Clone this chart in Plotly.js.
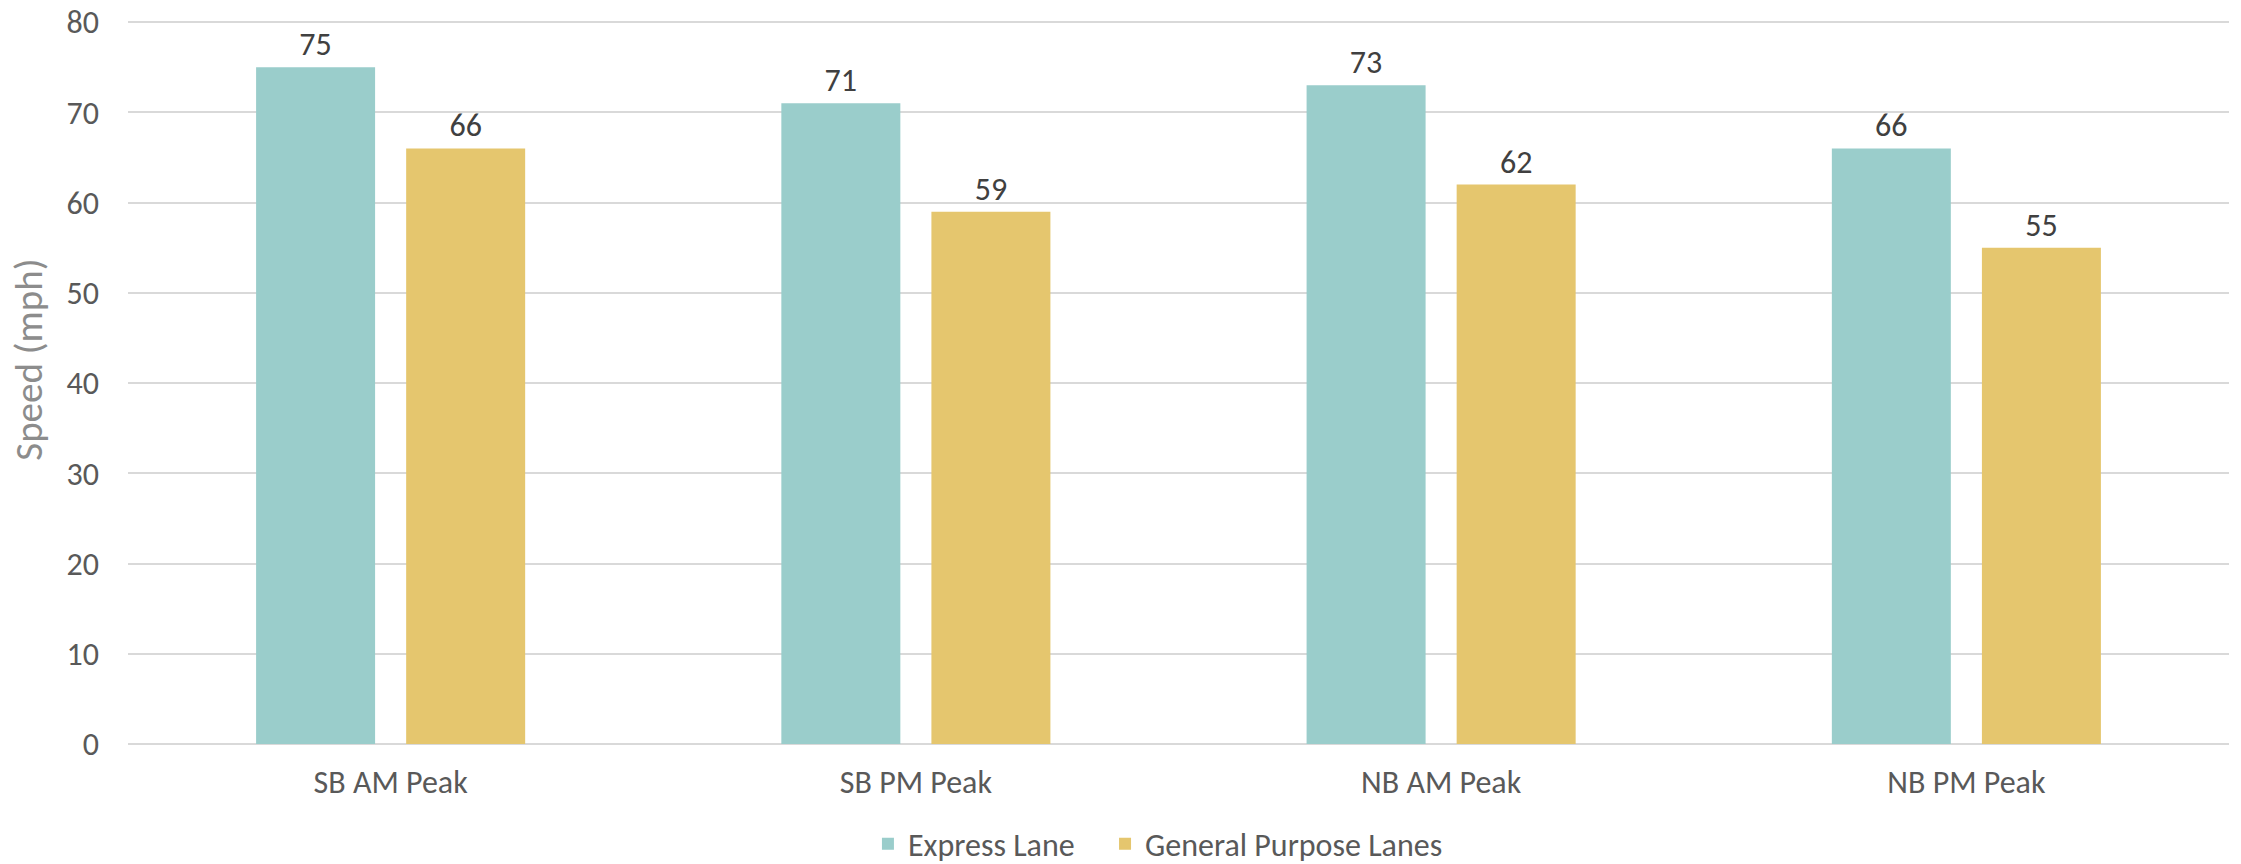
<!DOCTYPE html>
<html>
<head>
<meta charset="utf-8">
<script src="https://cdn.plot.ly/plotly-3.0.1.min.js"></script>
<style>html,body{margin:0;padding:0;background:#fff;}#chart{width:2241px;height:864px;}</style>
</head>
<body>
<div id="chart"></div>
<script>
const categories = ["SB AM Peak", "SB PM Peak", "NB AM Peak", "NB PM Peak"];
const expressLane = [75, 71, 73, 66];
const generalPurpose = [66, 59, 62, 55];
const seriesNames = ["Express Lane", "General Purpose Lanes"];
const yTicks = [0, 10, 20, 30, 40, 50, 60, 70, 80];

const FONT = "Carlito, Calibri, Lato, 'Open Sans', sans-serif";
const textFont = {family: FONT, size: 32, color: "#404040"};
const legendFont = {family: FONT, size: 32, color: "#595959"};

const traces = [
  {
    type: "bar", name: seriesNames[0], x: categories, y: expressLane,
    marker: {color: "#9ACDCB"}, legend: "legend",
    text: expressLane.map(String), textposition: "outside", textfont: textFont,
    cliponaxis: false, hoverinfo: "skip"
  },
  {
    type: "bar", name: seriesNames[1], x: categories, y: generalPurpose,
    marker: {color: "#E5C66E"}, legend: "legend2",
    text: generalPurpose.map(String), textposition: "outside", textfont: textFont,
    cliponaxis: false, hoverinfo: "skip"
  }
];

const layout = {
  width: 2241, height: 864,
  margin: {l: 128, r: 12, t: 19, b: 120, autoexpand: false},
  paper_bgcolor: "#fff", plot_bgcolor: "#fff",
  font: {family: FONT, size: 32, color: "#595959"},
  barmode: "group", bargap: 0.4286, bargroupgap: 0.207,
  showlegend: true,
  legend: {
    orientation: "h", xref: "container", yref: "container",
    x: 0.3873, xanchor: "left", y: 0.0231, yanchor: "middle",
    itemclick: false, font: legendFont, bgcolor: "rgba(0,0,0,0)"
  },
  legend2: {
    orientation: "h", xref: "container", yref: "container",
    x: 0.4931, xanchor: "left", y: 0.0231, yanchor: "middle",
    itemclick: false, font: legendFont, bgcolor: "rgba(0,0,0,0)"
  },
  xaxis: {
    type: "category", showgrid: false, showline: false, ticks: "",
    ticklabelstandoff: 16,
    tickfont: {family: FONT, size: 32, color: "#595959"}, fixedrange: true
  },
  yaxis: {
    range: [0, 80.35], tickvals: yTicks, showgrid: true, gridcolor: "#D9D9D9", gridwidth: 2,
    zeroline: true, zerolinecolor: "#D9D9D9", zerolinewidth: 2,
    showline: false, ticks: "", ticklabelstandoff: 28, ticklabeloverflow: "allow",
    tickfont: {family: FONT, size: 32, color: "#595959"}, fixedrange: true
  },
  annotations: [{
    text: "Speed (mph)", textangle: -90, xref: "paper", yref: "paper",
    x: -0.0471, y: 0.53, xanchor: "center", yanchor: "middle", showarrow: false,
    font: {family: FONT, size: 39, color: "#8C8C8C"}
  }]
};

Plotly.newPlot("chart", traces, layout, {displayModeBar: false, staticPlot: true});
</script>
</body>
</html>
